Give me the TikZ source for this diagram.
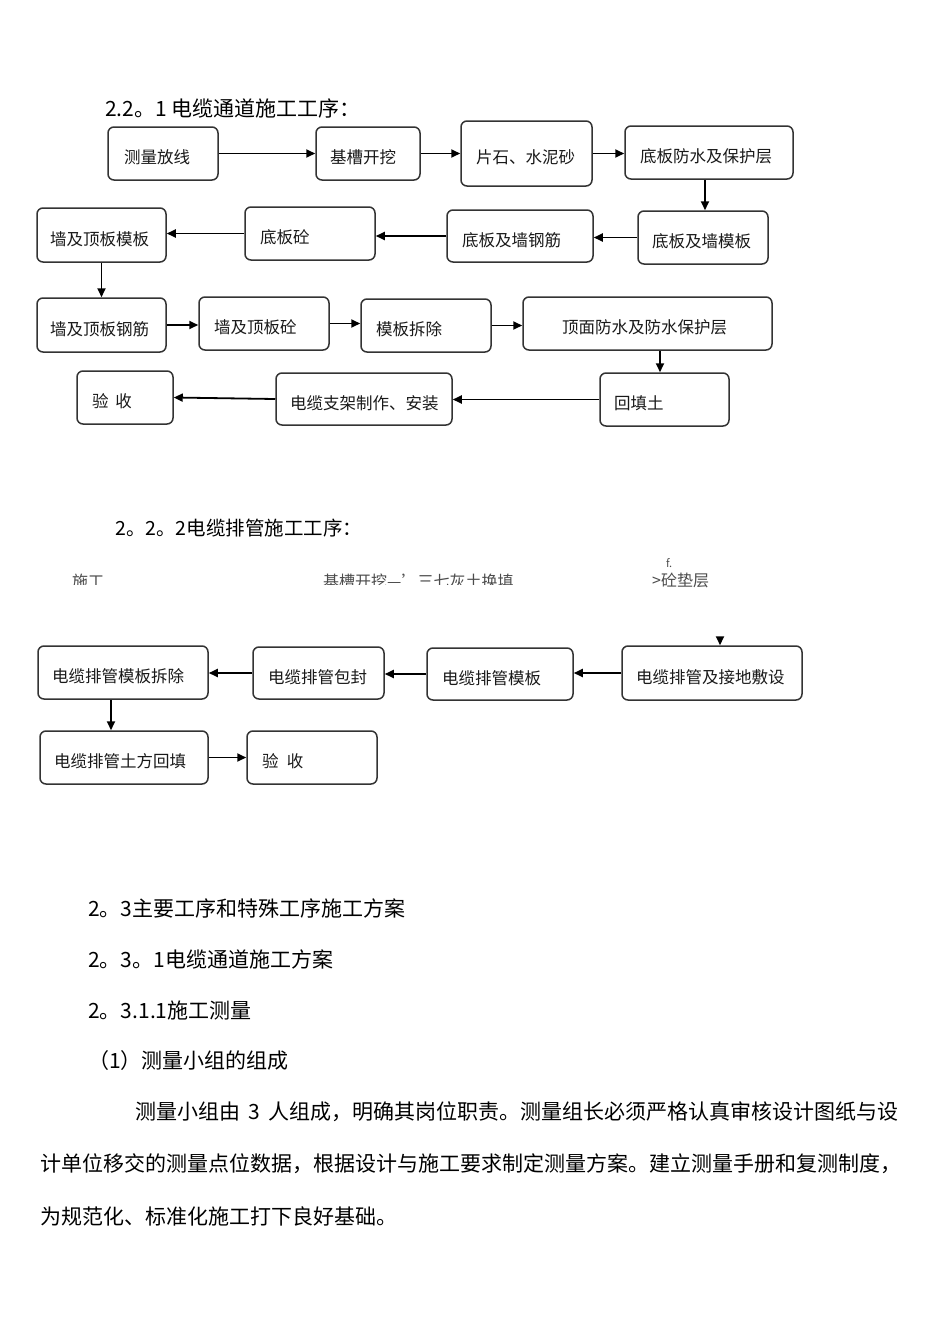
\documentclass[tikz,border=0pt]{standalone}
\usepackage{fontspec}
\setmainfont{Noto Sans CJK SC}
\usetikzlibrary{arrows.meta,calc}
\newcommand\flowbox[7]{%
  \pgfmathsetmacro\bcx{(#2+#4)/2}%
  \pgfmathsetmacro\bcy{(#3+#5)/2}%
  \pgfmathsetmacro\bww{#4-#2}%
  \pgfmathsetmacro\bhh{#5-#3}%
  \node[box, minimum width=\bww pt, minimum height=\bhh pt] (#1) at (\bcx,\bcy) {};
  \node[boxtext] (#1t) at (#6,\bcy+4) {#7};%
}
\begin{document}
\begin{tikzpicture}[x=1pt,y=-1pt,
  box/.style={draw=black!80, line width=1.5pt, rounded corners=6pt, inner sep=0pt, fill=white},
  boxtext/.style={anchor=west, inner sep=0pt, font=\fontsize{16.5}{18}\selectfont, text=black!90},
  arr/.style={draw=black, line width=1.8pt, -{Triangle[length=9pt,width=8pt]}},
  head/.style={anchor=west, inner sep=0pt, text=black},
  para/.style={anchor=west, inner sep=0pt, font=\fontsize{21}{24}\selectfont, text=black},
  garb/.style={anchor=west, inner sep=0pt, font=\fontsize{16}{18}\selectfont, text=black!70}]
\useasboundingbox[fill=white] (0,0) rectangle (950,1344);

% ---------- 2.2.1 ----------
\node[head, font=\fontsize{21}{23}\selectfont] (h1) at (105,108) {2.2。1 电缆通道施工工序：};

\flowbox{a1}{108}{127}{218}{180}{124}{测量放线}
\flowbox{a2}{316}{127}{420}{180}{330}{基槽开挖}
\flowbox{a3}{461}{121}{592}{186}{476}{片石、水泥砂}
\flowbox{a4}{625}{126}{793}{179}{640}{底板防水及保护层}

\flowbox{b1}{37}{208}{166}{262}{50}{墙及顶板模板}
\flowbox{b2}{245}{207}{375}{260}{260}{底板砼}
\flowbox{b3}{447}{210}{593}{262}{462}{底板及墙钢筋}
\flowbox{b4}{638}{211}{768}{264}{652}{底板及墙模板}

\flowbox{c1}{37}{298}{166}{352}{50}{墙及顶板钢筋}
\flowbox{c2}{199}{297}{329}{350}{214}{墙及顶板砼}
\flowbox{c3}{361}{299}{491}{352}{376}{模板拆除}
\flowbox{c4}{523}{297}{772}{350}{562}{顶面防水及防水保护层}

\flowbox{d1}{77}{371}{173}{424}{92}{验\hspace{0.4em}收}
\flowbox{d2}{276}{373}{452}{425}{290}{电缆支架制作、安装}
\flowbox{d3}{600}{373}{729}{426}{614}{回填土}

\draw[arr] (a1.east) -- (a1.east -| a2.west);
\draw[arr] (a2.east) -- (a2.east -| a3.west);
\draw[arr] (a3.east) -- (a3.east -| a4.west);
\draw[arr] (a4.south -| 705,0) -- (b4.north -| 705,0);
\draw[arr] (b4.west) -- (b4.west -| b3.east);
\draw[arr] (b3.west) -- (b3.west -| b2.east);
\draw[arr] (b2.west) -- (b2.west -| b1.east);
\draw[arr] (b1.south) -- (c1.north);
\draw[arr] (c1.east) -- (c1.east -| c2.west);
\draw[arr] (c2.east) -- (c2.east -| c3.west);
\draw[arr] (c3.east) -- (c3.east -| c4.west);
\draw[arr] (c4.south -| 660,0) -- (d3.north -| 660,0);
\draw[arr] (d3.west) -- (d3.west -| d2.east);
\draw[arr] (d2.west) -- (d1.east);

% ---------- 2.2.2 ----------
\node[head, font=\fontsize{19.5}{21}\selectfont] (h2) at (115,528) {2。2。2电缆排管施工工序：};

\begin{scope}
  \clip (0,560) rectangle (560,584);
  \node[garb] (g1) at (72,581) {施工};
  \node[garb] (g2) at (323,581) {基槽开挖—’三七灰土换填};
\end{scope}
\node[garb, font=\fontsize{11}{12}\selectfont\itshape] (g3) at (666,563) {f.};
\node[garb] (g4) at (652,580) {>砼垫层};

\flowbox{e1}{38}{646}{208}{699}{52}{电缆排管模板拆除}
\flowbox{e2}{253}{647}{384}{699}{268}{电缆排管包封}
\flowbox{e3}{427}{648}{573}{700}{442}{电缆排管模板}
\flowbox{e4}{622}{646}{802}{700}{636}{电缆排管及接地敷设}

\flowbox{f1}{40}{731}{208}{784}{54}{电缆排管土方回填}
\flowbox{f2}{247}{731}{377}{784}{262}{验\hspace{0.5em}收}

\coordinate (e4in) at (720,638);
\draw[arr] (e4in) -- (e4.north -| e4in);
\draw[arr] (e4.west) -- (e4.west -| e3.east);
\draw[arr] (e3.west) -- (e3.west -| e2.east);
\draw[arr] (e2.west) -- (e2.west -| e1.east);
\draw[arr] (e1.south -| 111,0) -- (f1.north -| 111,0);
\draw[arr] (f1.east) -- (f1.east -| f2.west);

% ---------- text ----------
\node[para] (p1) at (88,908) {2。3主要工序和特殊工序施工方案};
\node[para] (p2) at (88,959) {2。3。1电缆通道施工方案};
\node[para] (p3) at (88,1010) {2。3.1.1施工测量};
\node[para] (p4) at (88,1061) {（1）测量小组的组成};
\node[para] (p5) at (135,1112) {测量小组由\hspace{0.4em}3\hspace{0.4em}人组成，明确其岗位职责。测量组长必须严格认真审核设计图纸与设};
\node[para] (p6) at (40,1164) {计单位移交的测量点位数据，根据设计与施工要求制定测量方案。建立测量手册和复测制度，};
\node[para] (p7) at (40,1216) {为规范化、标准化施工打下良好基础。};
\end{tikzpicture}
\end{document}
